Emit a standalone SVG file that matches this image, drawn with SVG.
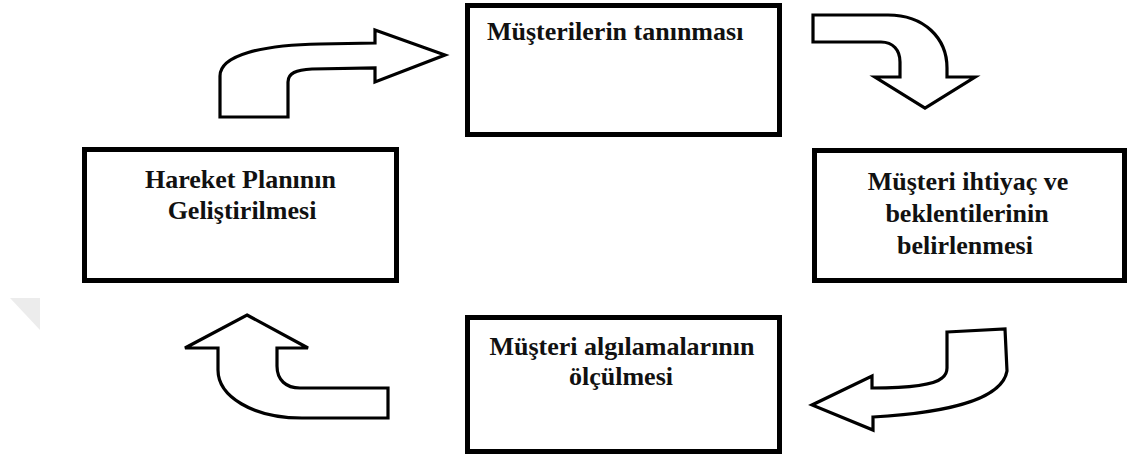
<svg xmlns="http://www.w3.org/2000/svg" width="1129" height="464" viewBox="0 0 1129 464">
  <style>
    .box { fill: #ffffff; stroke: #000000; stroke-width: 5; }
    .arrow { fill: #ffffff; stroke: #000000; stroke-width: 3.2; stroke-linejoin: miter; }
    .label { font-family: "Liberation Serif", "Times New Roman", serif; font-weight: bold; font-size: 26px; fill: #111111; }
  </style>
  <rect x="0" y="0" width="1129" height="464" fill="#ffffff"/>

  <!-- faint corner mark on the left margin -->
  <polygon points="10,298 40,298 40,330" fill="#ececec"/>

  <g id="connectors">
    <!-- action plan to customer identification -->
    <path class="arrow" d="M220,117 L220,76 C220,55 262,45 320,44 L375,43 L375,30 L445,55 L375,82 L375,68 L312,69 C296,70 288,73 288,82 L288,117 Z"/>
    <!-- identification to needs and expectations -->
    <path class="arrow" d="M813,15 L888,15 C924,15 947,38 947,68 L947,77 L975,77 L925,108 L875,77 L900,77 L900,62 C900,50 893,42 881,42 L813,42 Z"/>
    <!-- needs to perception measurement -->
    <path class="arrow" d="M947,332 L1005,329 L1007,371 C1002,400 945,413 873,417 L873,430 L812,405 L872,376 L872,388 C905,388 933,386 942,378 C946,375 947,372 947,368 Z"/>
    <!-- measurement back to action plan -->
    <path class="arrow" d="M247,315 L308,348 L277,348 L277,366 C277,380 286,388 300,388 L388,388 L388,418 L302,418 C252,418 218,396 218,370 L218,348 L185,348 Z"/>
  </g>

  <g id="node-tanima">
    <rect class="box" x="467.5" y="5.5" width="312" height="129"/>
    <text class="label" x="487" y="40">Müşterilerin tanınması</text>
  </g>

  <g id="node-ihtiyac">
    <rect class="box" x="814.5" y="150.5" width="310" height="130"/>
    <text class="label" x="968" y="190" text-anchor="middle">Müşteri ihtiyaç ve</text>
    <text class="label" x="967" y="222" text-anchor="middle">beklentilerinin</text>
    <text class="label" x="965" y="254" text-anchor="middle">belirlenmesi</text>
  </g>

  <g id="node-olcum">
    <rect class="box" x="467.5" y="317.5" width="312" height="134"/>
    <text class="label" x="622" y="355" text-anchor="middle">Müşteri algılamalarının</text>
    <text class="label" x="621" y="385" text-anchor="middle">ölçülmesi</text>
  </g>

  <g id="node-plan">
    <rect class="box" x="84.5" y="149.5" width="312" height="131"/>
    <text class="label" x="240.5" y="188" text-anchor="middle">Hareket Planının</text>
    <text class="label" x="242" y="219" text-anchor="middle">Geliştirilmesi</text>
  </g>
</svg>
